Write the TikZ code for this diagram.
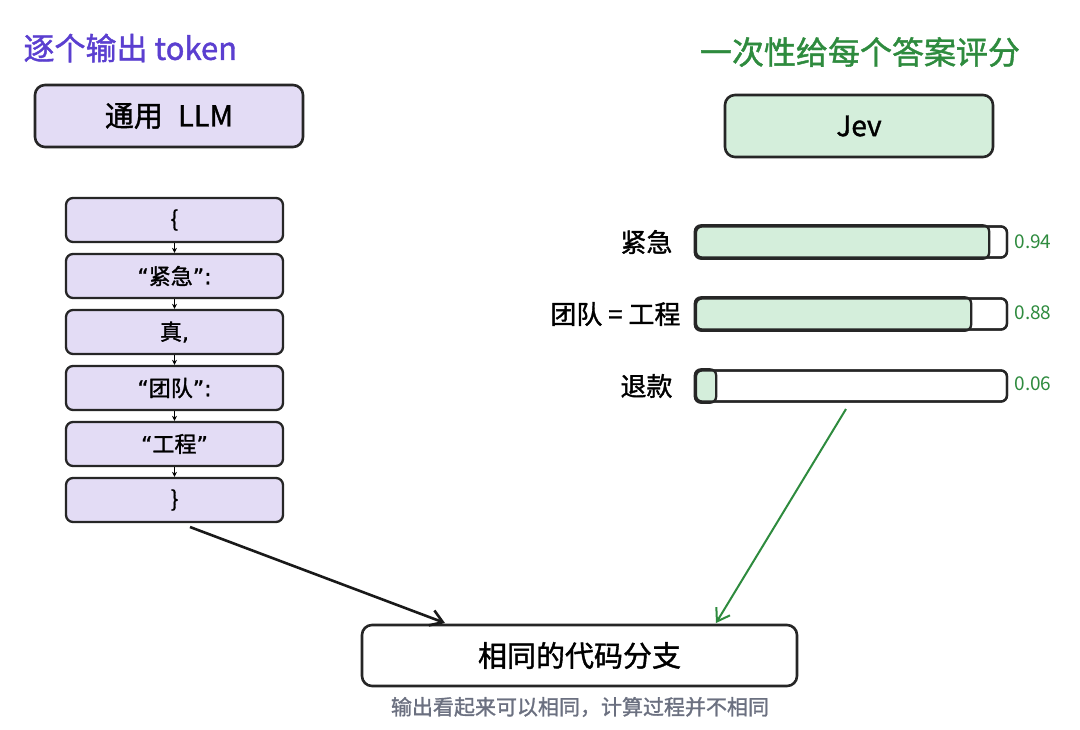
\documentclass[tikz,border=0pt]{standalone}
\usepackage{fontspec}
\setmainfont{Noto Sans CJK SC}[BoldFont=Noto Sans CJK SC, BoldFeatures={FakeBold=1.3}]
\newfontfamily\lat{DejaVu Sans}[BoldFont=DejaVu Sans, BoldFeatures={FakeBold=1.3}]
\usetikzlibrary{arrows.meta}
\definecolor{purp}{HTML}{5B3FD0}
\definecolor{lav}{HTML}{E3DCF5}
\definecolor{grn}{HTML}{2E8B3E}
\definecolor{lgrn}{HTML}{D4EEDB}
\definecolor{capg}{HTML}{6B7080}
\begin{document}
\begin{tikzpicture}[x=1pt,y=-1pt,
  every node/.style={font=\bfseries},
  box/.style={draw=black!85,line width=2.6pt,rounded corners=10pt,inner sep=0pt},
  tok/.style={box,fill=lav,minimum width=217pt,minimum height=44pt,rounded corners=7pt,line width=2.3pt,font=\bfseries\fontsize{22}{26}\selectfont},
  bar/.style={draw=black!85,line width=2.3pt,rounded corners=6pt,minimum height=31pt,minimum width=311pt,inner sep=0pt,fill=white},
  val/.style={text=grn,font=\fontsize{19}{22}\selectfont,anchor=west},
  lbl/.style={font=\bfseries\fontsize{26}{30}\selectfont,anchor=east},
  small/.style={-{Stealth[length=5pt,width=5pt]},line width=0.9pt}]
\useasboundingbox (0,0) rectangle (1080,729);
\fill[white] (0,0) rectangle (1080,729);
% left side
\node[text=purp,font=\bfseries\fontsize{31}{36}\selectfont,anchor=west] (lt) at (20,48) {逐个输出 token};
\node[box,fill=lav,minimum width=268pt,minimum height=62pt,font=\bfseries\fontsize{29}{34}\selectfont] (llm) at (169,116) {通用\hspace{0.3em} LLM};
\node[tok] (t1) at (174.5,220) {\{};
\node[tok] (t2) at (174.5,276) {{\lat “}紧急{\lat ”:}};
\node[tok] (t3) at (174.5,332) {真{\lat ,}};
\node[tok] (t4) at (174.5,388) {{\lat “}团队{\lat ”:}};
\node[tok] (t5) at (174.5,444) {{\lat “}工程{\lat ”}};
\node[tok] (t6) at (174.5,500) {\}};
\foreach \a/\b in {t1/t2,t2/t3,t3/t4,t4/t5,t5/t6} \draw[small] (\a.south) -- (\b.north);
% right side
\node[text=grn,font=\bfseries\fontsize{32}{36}\selectfont] (rt) at (860,52) {一次性给每个答案评分};
\node[box,fill=lgrn,minimum width=268pt,minimum height=62pt,font=\bfseries\fontsize{28}{32}\selectfont] (jev) at (859,126) {Jev};
% bars
\node[bar] (b1) at (851.5,242) {};
\fill[lgrn,draw=black!85,line width=2.3pt,rounded corners=6pt] (b1.north west) rectangle ([xshift=-19pt]b1.south east);
\node[bar,fill=none] at (b1) {};
\node[bar] (b2) at (851.5,314) {};
\fill[lgrn,draw=black!85,line width=2.3pt,rounded corners=6pt] (b2.north west) rectangle ([xshift=-37pt]b2.south east);
\node[bar,fill=none] at (b2) {};
\node[bar] (b3) at (851.5,386) {};
\fill[lgrn,draw=black!85,line width=2.3pt,rounded corners=6pt] (b3.north west) rectangle ([xshift=-292pt]b3.south east);
\node[bar,fill=none] at (b3) {};
\node[lbl] (l1) at (676,242) {紧急};
\node[lbl] (l2) at (684,314) {团队 = 工程};
\node[lbl] (l3) at (676,386) {退款};
\node[val] (v1) at (1011,242) {0.94};
\node[val] (v2) at (1011,313) {0.88};
\node[val] (v3) at (1011,384) {0.06};
% bottom
\node[box,fill=white,minimum width=435pt,minimum height=61pt,font=\bfseries\fontsize{29}{34}\selectfont] (out) at (579.5,655.5) {相同的代码分支};
\node[text=capg,font=\bfseries\fontsize{21}{24}\selectfont] (cap) at (580,707) {输出看起来可以相同，计算过程并不相同};
\coordinate (s1) at (190,527);
\coordinate (e1) at (445,623);
\draw[-{Straight Barb[length=12pt,width=16pt]},line width=2.6pt,black!90] (s1) -- (e1);
\coordinate (s2) at (846,409);
\coordinate (e2) at (716,623);
\draw[-{Straight Barb[length=12pt,width=16pt]},line width=2pt,grn] (s2) -- (e2);
\end{tikzpicture}
\end{document}
